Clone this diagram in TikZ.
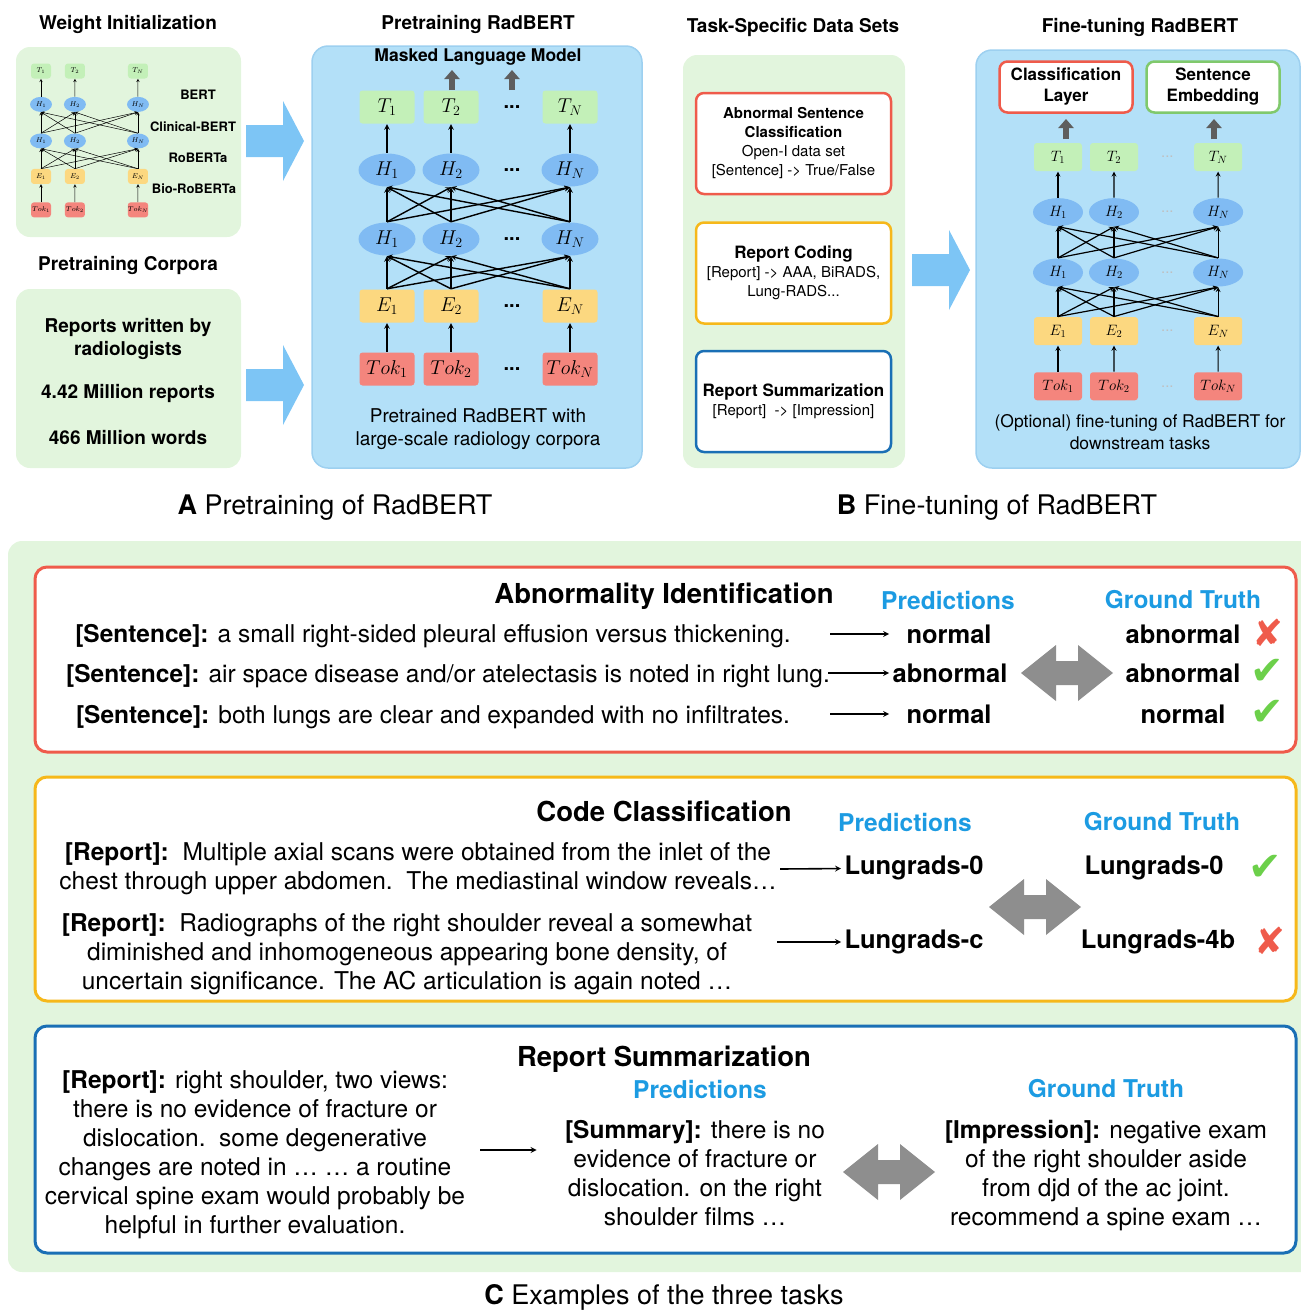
\RequirePackage{fix-cm}
\documentclass[tikz,border=0pt]{standalone}
\usepackage{fontspec}
\setmainfont{TeX Gyre Heros}
\newfontfamily\markfont{DejaVu Sans}
\usetikzlibrary{shapes.geometric, arrows, arrows.meta}

\definecolor{panelgreen}{HTML}{E2F5DD}
\definecolor{panelblue}{HTML}{B3E0F8}
\definecolor{panelborder}{HTML}{9DD0F0}
\definecolor{bigarrow}{HTML}{7DC5F5}
\definecolor{tgreen}{HTML}{C3F0B8}
\definecolor{hblue}{HTML}{80BBF3}
\definecolor{eyellow}{HTML}{FCD880}
\definecolor{tokred}{HTML}{F4857D}
\definecolor{redline}{HTML}{EF5B4B}
\definecolor{orangeline}{HTML}{F6B81A}
\definecolor{blueline}{HTML}{1A6FB5}
\definecolor{greenline}{HTML}{80C96C}
\definecolor{predblue}{HTML}{1C9BE2}
\definecolor{swapgray}{HTML}{8E8E8E}
\definecolor{arrowgray}{HTML}{5E5E5E}
\definecolor{checkgreen}{HTML}{6CD04A}

\tikzstyle{panel} = [rounded corners=14pt, fill=panelgreen]
\tikzstyle{bluepanel} = [rounded corners=16pt, fill=panelblue, draw=panelborder, line width=1.5pt]
\tikzstyle{heading} = [font=\bfseries\fontsize{19}{22}\selectfont, yshift=-2pt]
\tikzstyle{caption} = [font=\fontsize{27}{32}\selectfont]
\tikzstyle{corpus} = [font=\bfseries\fontsize{19}{23}\selectfont, align=center, yshift=-2pt]
\tikzstyle{modelname} = [font=\bfseries\fontsize{13}{15}\selectfont]
\tikzstyle{plaintext} = [font=\fontsize{19}{23}\selectfont, align=center, yshift=-2pt]
\tikzstyle{taskbox} = [rectangle, rounded corners=8pt, line width=2.5pt, fill=white, minimum width=195pt, minimum height=101pt, align=center, font=\fontsize{15}{19}\selectfont]
\tikzstyle{headbox} = [rectangle, rounded corners=8pt, line width=2.5pt, fill=white, minimum width=133pt, minimum height=51pt, align=center, font=\bfseries\fontsize{17}{21}\selectfont]
\tikzstyle{examplebox} = [rounded corners=12pt, line width=3pt, fill=white]
\tikzstyle{boxtitle} = [font=\bfseries\fontsize{27.5}{32}\selectfont, yshift=-3pt]
\tikzstyle{colhead} = [font=\bfseries\fontsize{24.5}{28}\selectfont, text=predblue]
\tikzstyle{bodytext} = [font=\fontsize{24.5}{29}\selectfont, align=center, yshift=-3pt]
\tikzstyle{answer} = [font=\bfseries\fontsize{25.5}{30}\selectfont]
\tikzstyle{correct} = [font=\markfont\fontsize{40}{40}\selectfont, text=checkgreen]
\tikzstyle{wrong} = [font=\markfont\fontsize{37}{37}\selectfont, text=redline]
\tikzstyle{tbox} = [rectangle, rounded corners=3pt, fill=tgreen, inner sep=0pt]
\tikzstyle{hnode} = [ellipse, fill=hblue, inner sep=0pt]
\tikzstyle{ebox} = [rectangle, rounded corners=3pt, fill=eyellow, inner sep=0pt]
\tikzstyle{tokbox} = [rectangle, rounded corners=3pt, fill=tokred, inner sep=0pt]
\tikzstyle{netarrow} = [->,>=stealth]
\tikzstyle{arrow} = [line width=1.6pt,->,>=stealth]
\tikzstyle{uparrow} = [line width=6pt, draw=arrowgray, -{Triangle[width=15pt,length=9pt]}]

% one BERT stack: prefix, x, y, scale, box width, box height, font, dots, line width
\newcommand{\bertnet}[9]{%
  \begin{scope}[shift={(#2,#3)}, scale=#4, line width=#9]
    \foreach \col/\xx/\sub in {1/0/1, 2/64/2, n/183/N} {
      \node (#1t\col) [tbox, minimum width=#5, minimum height=#6, font=#7] at (\xx,0) {$T_\sub$};
      \node (#1ha\col) [hnode, minimum width=#5+2pt, minimum height=#6, font=#7] at (\xx,63) {$H_\sub$};
      \node (#1hb\col) [hnode, minimum width=#5+2pt, minimum height=#6, font=#7] at (\xx,132) {$H_\sub$};
      \node (#1e\col) [ebox, minimum width=#5, minimum height=#6, font=#7] at (\xx,199) {$E_\sub$};
      \node (#1tok\col) [tokbox, minimum width=#5, minimum height=#6, font=#7] at (\xx,262) {$Tok_\sub$};
    }
    \foreach \yy/\nm in {0/t, 63/ha, 132/hb, 199/e, 262/tok}
      \node (#1dot\nm) [font=#7] at (125,\yy) {#8};
    \foreach \col in {1,2,n} {
      \draw [netarrow] (#1tok\col) -- (#1e\col);
      \draw [netarrow] (#1ha\col) -- (#1t\col);
      \foreach \dest in {1,2,n} {
        \draw [netarrow] (#1e\col.north) -- (#1hb\dest.south);
        \draw [netarrow] (#1hb\col.north) -- (#1ha\dest.south);
      }
    }
  \end{scope}}

% grey two-headed arrow centred at (#1,#2)
\newcommand{\swaparrow}[2]{%
  \fill[swapgray] (#1-46,#2) -- (#1-11,#2-28) -- (#1-11,#2-12) -- (#1+11,#2-12) -- (#1+11,#2-28)
    -- (#1+46,#2) -- (#1+11,#2+28) -- (#1+11,#2+12) -- (#1-11,#2+12) -- (#1-11,#2+28) -- cycle;}

% light blue arrow pointing right, left end (#1,#2)
\newcommand{\bigarrow}[2]{%
  \fill[bigarrow] (#1,#2-16) -- (#1+37,#2-16) -- (#1+37,#2-40) -- (#1+58,#2) -- (#1+37,#2+40)
    -- (#1+37,#2+16) -- (#1,#2+16) -- cycle;}

\begin{document}
\begin{tikzpicture}[x=1pt, y=-1pt]
\useasboundingbox (0,0) rectangle (1301,1312);

% ---- A: pretraining
\node (wititle) [heading] at (128,22) {Weight Initialization};
\fill[panel] (16,47) rectangle (241,237);
\bertnet{wi}{41}{71}{0.53}{20pt}{15pt}{\fontsize{7}{7}\selectfont}{}{0.5pt}
\node (bert) [modelname] at (198,95) {BERT};
\node (cbert) [modelname] at (193,127) {Clinical-BERT};
\node (roberta) [modelname] at (198,158) {RoBERTa};
\node (broberta) [modelname] at (194,189) {Bio-RoBERTa};

\node (cotitle) [heading] at (128,263) {Pretraining Corpora};
\fill[panel] (16,289) rectangle (241,468);
\node (reports) [corpus] at (128,337) {Reports written by\\radiologists};
\node (nreports) [corpus] at (128,391) {4.42 Million reports};
\node (nwords) [corpus] at (128,436) {466 Million words};

\bigarrow{246}{141}
\bigarrow{246}{385}

\node (pretitle) [heading] at (478,22) {Pretraining RadBERT};
\draw[bluepanel] (312,46) rectangle (642,468);
\node (mlm) [font=\bfseries\fontsize{17.5}{20}\selectfont] at (478,57) {Masked Language Model};
\bertnet{pre}{387}{107}{1}{55pt}{33pt}{\fontsize{20}{20}\selectfont}{\textbf{...}}{1.4pt}
\coordinate (mlma) at (452,90);
\coordinate (mlmb) at (512,90);
\draw [uparrow] (mlma) -- ++(0,-20);
\draw [uparrow] (mlmb) -- ++(0,-20);
\node (pretext) [plaintext] at (478,427) {Pretrained RadBERT with\\large-scale radiology corpora};

\node (capa) [caption] at (335,508) {\textbf{A} Pretraining of RadBERT};

% ---- B: fine-tuning
\node (tasktitle) [heading] at (793,25) {Task-Specific Data Sets};
\fill[panel] (683,55) rectangle (905,468);
\node (task1) [taskbox, draw=redline] at (793.5,143.5) {\textbf{Abnormal Sentence}\\\textbf{Classification}\\Open-I data set\\{}[Sentence] -> True/False};
\node (task2) [taskbox, draw=orangeline] at (793.5,273) {{\bfseries\fontsize{17}{21}\selectfont Report Coding}\\{}[Report] -> AAA, BiRADS,\\Lung-RADS...};
\node (task3) [taskbox, draw=blueline] at (793.5,401.5) {{\bfseries\fontsize{17}{21}\selectfont Report Summarization}\\{}[Report]\ \ -> [Impression]};

\bigarrow{912}{270}

\node (fttitle) [heading] at (1140,25) {Fine-tuning RadBERT};
\draw[bluepanel] (976,50) rectangle (1300,468);
\node (clslayer) [headbox, draw=redline] at (1066,87) {Classification\\Layer};
\node (sentemb) [headbox, draw=greenline] at (1213,87) {Sentence\\Embedding};
\bertnet{ft}{1058}{157}{0.875}{48pt}{28pt}{\fontsize{15}{15}\selectfont}{\textcolor{gray!50}{...}}{1.2pt}
\coordinate (clsa) at (1066,139);
\coordinate (emba) at (1214,139);
\draw [uparrow] (clsa) -- ++(0,-20);
\draw [uparrow] (emba) -- ++(0,-20);
\node (fttext) [plaintext, font=\fontsize{17.5}{22}\selectfont] at (1140,430) {(Optional) fine-tuning of RadBERT for\\downstream tasks};

\node (capb) [caption] at (997,508) {\textbf{B} Fine-tuning of RadBERT};

% ---- C: examples
\fill[panel] (8,541) rectangle (1320,1272);

\draw[examplebox, draw=redline] (35,567) rectangle (1296,752);
\node (ai) [boxtitle] at (664,593) {Abnormality Identification};
\node (aipred) [colhead] at (948,600) {Predictions};
\node (aigt) [colhead] at (1183,600) {Ground Truth};
\node (s1) [bodytext] at (433,633) {\textbf{[Sentence]:} a small right-sided pleural effusion versus thickening.};
\node (s2) [bodytext] at (448,673) {\textbf{[Sentence]:} air space disease and/or atelectasis is noted in right lung.};
\node (s3) [bodytext] at (433,714) {\textbf{[Sentence]:} both lungs are clear and expanded with no infiltrates.};
\node (p1) [answer] at (949,634) {normal};
\node (p2) [answer] at (950,673) {abnormal};
\node (p3) [answer] at (949,714) {normal};
\node (g1) [answer] at (1183,634) {abnormal};
\node (g2) [answer] at (1183,673) {abnormal};
\node (g3) [answer] at (1183,714) {normal};
\node (m1) [wrong] at (1268,633) {✘};
\node (m2) [correct] at (1267,672) {✔};
\node (m3) [correct] at (1267,713) {✔};
\coordinate (s1a) at (830,634);
\coordinate (s2a) at (828,673);
\coordinate (s3a) at (830,714);
\draw [arrow] (s1a) -- (s1a -| p2.west);
\draw [arrow] (s2a) -- (p2.west);
\draw [arrow] (s3a) -- (s3a -| p2.west);
\swaparrow{1067}{673}

\draw[examplebox, draw=orangeline] (35,777) rectangle (1296,1001);
\node (cc) [boxtitle] at (664,808) {Code Classification};
\node (ccpred) [colhead] at (905,822) {Predictions};
\node (ccgt) [colhead] at (1162,822) {Ground Truth};
\node (r1) [bodytext] at (418,866) {\textbf{[Report]:}\ \ Multiple axial scans were obtained from the inlet of the\\chest through upper abdomen.\ \ The mediastinal window reveals…};
\node (r2) [bodytext] at (407,951) {\textbf{[Report]:}\ \ Radiographs of the right shoulder reveal a somewhat\\diminished and inhomogeneous appearing bone density, of\\uncertain significance. The AC articulation is again noted …};
\node (cp1) [answer] at (914,868) {Lungrads-0};
\node (cp2) [answer] at (914,942) {Lungrads-c};
\node (cg1) [answer] at (1154,868) {Lungrads-0};
\node (cg2) [answer] at (1158,942) {Lungrads-4b};
\node (m4) [correct] at (1265,868) {✔};
\node (m5) [wrong] at (1270,941) {✘};
\coordinate (r1a) at (780,869);
\coordinate (r2a) at (777,942);
\draw [arrow] (r1a) -- (cp1);
\draw [arrow] (r2a) -- (cp2);
\swaparrow{1035}{907}

\draw[examplebox, draw=blueline] (35,1026) rectangle (1296,1253);
\node (rs) [boxtitle] at (664,1056) {Report Summarization};
\node (rspred) [colhead] at (700,1089) {Predictions};
\node (rsgt) [colhead] at (1106,1089) {Ground Truth};
\node (rep) [bodytext] at (255,1152) {\textbf{[Report]:} right shoulder, two views:\\there is no evidence of fracture or\\dislocation.\ \ some degenerative\\changes are noted in … … a routine\\cervical spine exam would probably be\\helpful in further evaluation.};
\node (summ) [bodytext, yshift=3pt] at (695,1173) {\textbf{[Summary]:} there is no\\evidence of fracture or\\dislocation. on the right\\shoulder films …};
\node (imp) [bodytext] at (1106,1173) {\textbf{[Impression]:} negative exam\\of the right shoulder aside\\from djd of the ac joint.\\recommend a spine exam …};
\coordinate (repa) at (480,1150);
\draw [arrow, shorten >=25pt] (repa) -- (repa -| summ.west);
\swaparrow{889}{1172}

\node (capc) [caption, anchor=base] at (664,1304) {\textbf{C}\ Examples of the three tasks};
\end{tikzpicture}
\end{document}
